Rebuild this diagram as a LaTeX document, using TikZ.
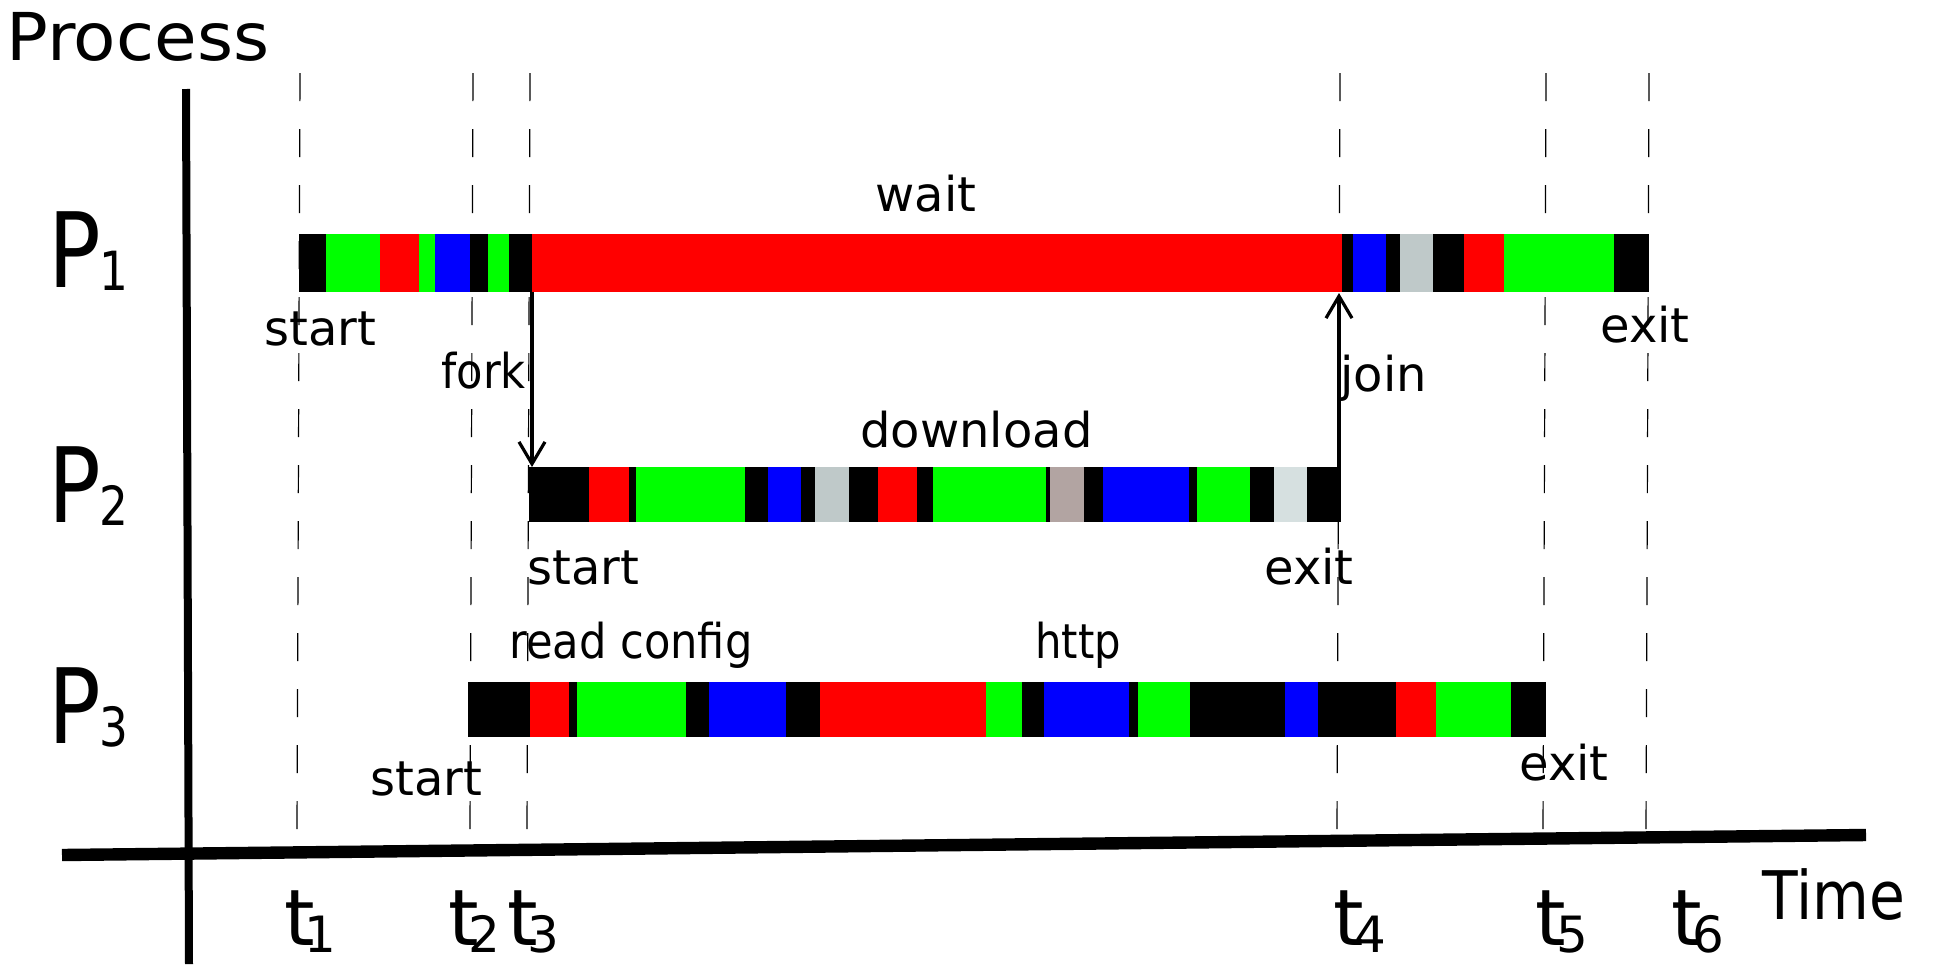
\documentclass[tikz,border=0pt]{standalone}
\usepackage{fontspec}
\setmainfont{DejaVu Sans}
\usetikzlibrary{arrows.meta}

\definecolor{cpu}{RGB}{0,255,0}
\definecolor{io}{RGB}{255,0,0}
\definecolor{net}{RGB}{0,0,255}
\definecolor{idle}{RGB}{0,0,0}
\definecolor{paged}{RGB}{191,201,201}
\definecolor{sleep}{RGB}{178,164,162}
\definecolor{lock}{RGB}{214,224,224}

% one coloured stripe of a process bar: left x / right x / colour
\newcommand{\procbar}[3]{%
  \foreach \xa/\xb/\c in {#3} {\fill[color=\c] (\xa,#1) rectangle (\xb+0.6,#2);}%
}
\newcommand{\plab}[1]{\scalebox{0.84}[1]{P\kern-1pt\raisebox{-1.5pt}{\fontsize{27}{30}\selectfont #1}}}
\newcommand{\tlab}[1]{t\kern-5pt\raisebox{-3.5pt}{\fontsize{25}{28}\selectfont #1}}

\begin{document}
\begin{tikzpicture}[x=0.5pt,y=-0.5pt,
  lbl/.style={anchor=base west, inner sep=0pt, font=\fontsize{24}{28}\selectfont},
  plbl/.style={anchor=base west, inner sep=0pt, font=\fontsize{52}{56}\selectfont},
  tlbl/.style={anchor=base west, inner sep=0pt, font=\fontsize{39}{44}\selectfont},
  big/.style={anchor=base west, inner sep=0pt, font=\fontsize{33}{38}\selectfont},
  guide/.style={line width=0.6pt, dash pattern=on 14pt off 14pt},
  axis/.style={line width=#1, line cap=butt},
  conn/.style={line width=1.6pt, -{Straight Barb[length=11pt,width=13pt]}}]
\useasboundingbox (0,0) rectangle (1948,964);

% time markers
\foreach \n/\x in {1/299,2/472,3/529,4/1339,5/1545,6/1648} {
  \coordinate (g\n top) at (\x+1,73);
  \coordinate (g\n bot) at (\x-2,829);
  \draw[guide] (g\n top) -- (g\n bot);
}

% axes
\coordinate (yaxtop) at (186,89);
\coordinate (yaxbot) at (189,964);
\coordinate (xaxl) at (62,855);
\coordinate (xaxr) at (1866,835);
\draw[axis=4pt] (yaxtop) -- (yaxbot);
\draw[axis=6.2pt] (xaxl) -- (xaxr);

% process P1
\procbar{234}{292}{299/326/idle, 326/380/cpu, 380/419/io, 419/435/cpu, 435/470/net,
  470/488/idle, 488/509/cpu, 509/532/idle, 532/1342/io, 1342/1353/idle, 1353/1386/net,
  1386/1400/idle, 1400/1433/paged, 1433/1464/idle, 1464/1504/io, 1504/1614/cpu, 1614/1648/idle}
% process P2
\procbar{467}{522}{529/589/idle, 589/629/io, 629/636/idle, 636/745/cpu, 745/768/idle,
  768/801/net, 801/815/idle, 815/849/paged, 849/878/idle, 878/917/io, 917/933/idle,
  933/1046/cpu, 1046/1050/idle, 1050/1084/sleep, 1084/1103/idle, 1103/1189/net,
  1189/1197/idle, 1197/1250/cpu, 1250/1274/idle, 1274/1307/lock, 1307/1340/idle}
% process P3
\procbar{682}{737}{468/530/idle, 530/569/io, 569/577/idle, 577/686/cpu, 686/709/idle,
  709/786/net, 786/820/idle, 820/986/io, 986/1022/cpu, 1022/1044/idle, 1044/1129/net,
  1129/1138/idle, 1138/1190/cpu, 1190/1285/idle, 1285/1318/net, 1318/1396/idle,
  1396/1436/io, 1436/1511/cpu, 1511/1545/idle}

% fork and join
\coordinate (forkfrom) at (532,292);
\coordinate (forkto) at (532,467);
\coordinate (joinfrom) at (1339,472);
\coordinate (jointo) at (1339,293);
\draw[conn] (forkfrom) -- (forkto);
\draw[conn] (joinfrom) -- (jointo);

% axis titles
\node[big] (process) at (6,60) {\scalebox{1.05}[1]{Process}};
\node[big, font=\fontsize{33.5}{38}\selectfont] (time) at (1762,919) {\scalebox{0.87}[1]{Time}};

% process names
\node[plbl] (p1) at (48,287) {\plab{1}};
\node[plbl] (p2) at (48,522) {\plab{2}};
\node[plbl] (p3) at (48,743) {\plab{3}};

% event labels
\node[lbl] (wait) at (875,211) {wait};
\node[lbl] (start1) at (264,345) {start};
\node[lbl] (fork) at (441,388) {\scalebox{0.9}[1]{fork}};
\node[lbl] (join) at (1340,391) {join};
\node[lbl] (exit1) at (1600,342) {exit};
\node[lbl] (download) at (860,447) {download};
\node[lbl] (start2) at (527,584) {start};
\node[lbl] (exit2) at (1264,584) {exit};
\node[lbl] (readcfg) at (509,658) {\scalebox{0.9}[1]{read config}};
\node[lbl] (http) at (1035,658) {\scalebox{0.87}[1]{http}};
\node[lbl] (start3) at (370,795) {start};
\node[lbl] (exit3) at (1519,780) {exit};

% time labels
\node[tlbl] (t1) at (284,945) {\tlab{1}};
\node[tlbl] (t2) at (448,945) {\tlab{2}};
\node[tlbl] (t3) at (507,945) {\tlab{3}};
\node[tlbl] (t4) at (1333,945) {\tlab{4}};
\node[tlbl] (t5) at (1535,945) {\tlab{5}};
\node[tlbl] (t6) at (1671,945) {\tlab{6}};
\end{tikzpicture}
\end{document}
